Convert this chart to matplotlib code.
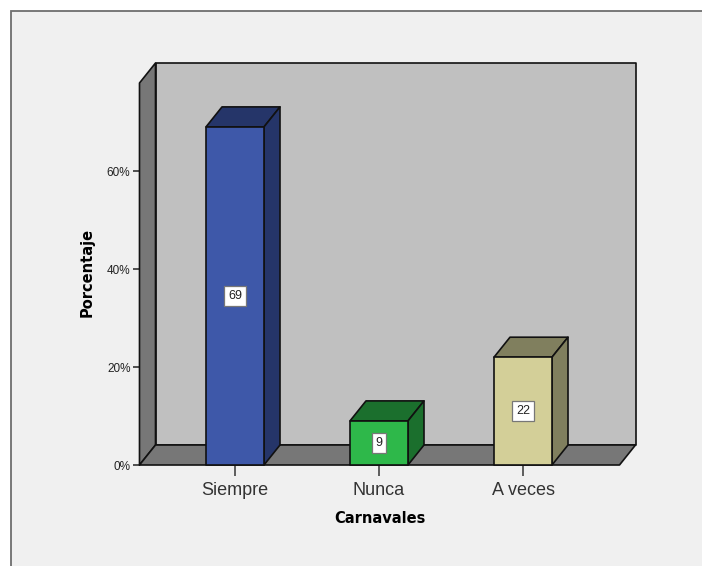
"""
3D style bar chart of Carnavales percentages
"""
import matplotlib
matplotlib.use("Agg")
from matplotlib import pyplot as plt
from matplotlib.patches import Polygon, Rectangle

categories = ["Siempre", "Nunca", "A veces"]
values = [69, 9, 22]
y_ticks = [0, 20, 40, 60]
front_colors = ["#3e58a9", "#2eb84a", "#d3cf98"]
side_colors = ["#253569", "#1b6f2d", "#807f5e"]

W, H = 702, 566
plt.rcParams["font.family"] = ["Liberation Sans", "DejaVu Sans"]

fig = plt.figure(figsize=(W / 100, H / 100), dpi=100, facecolor="white")

#Grey chart frame, open at the right and bottom edges of the image
fig.add_artist(Rectangle((10.5 / W, -0.1), 1, 1.1 - 11.5 / H, transform=fig.transFigure,
                         facecolor="#f0f0f0", edgecolor="#6e6e6e", linewidth=1.3, zorder=-1))

#Axes box is the front plane of the 3D plot
left, right, bottom, top = 139.5, 619.5, 465, 83
ax = fig.add_axes([left / W, 1 - bottom / H, (right - left) / W, (bottom - top) / H])
x_per_px = 1 / 144
y_per_px = 1 / 4.9
ax.set_xlim(-95.5 * x_per_px, 384.5 * x_per_px)
ax.set_ylim(0, (bottom - top) * y_per_px)
ax.patch.set_visible(False)
for s in ax.spines.values():
    s.set_visible(False)

dx = 16 * x_per_px
dy = 20 * y_per_px
x0, x1 = ax.get_xlim()
y0, y1 = ax.get_ylim()
line = "#111111"
lw = 1.2


def face(pts, color, z):
    ax.add_patch(Polygon(pts, closed=True, facecolor=color, edgecolor=line,
                         linewidth=lw, joinstyle="round", clip_on=False, zorder=z))


#Walls and floor
face([(x0 + dx, y0 + dy), (x1 + dx, y0 + dy), (x1 + dx, y1 + dy), (x0 + dx, y1 + dy)], "#c0c0c0", 1)
face([(x0, y0), (x0 + dx, y0 + dy), (x0 + dx, y1 + dy), (x0, y1)], "#777777", 2)
face([(x0, y0), (x1, y0), (x1 + dx, y0 + dy), (x0 + dx, y0 + dy)], "#777777", 2)

#Bars
bar_w = 58 * x_per_px
for i, v in enumerate(values):
    l, r = i - bar_w / 2, i + bar_w / 2
    face([(l, v), (r, v), (r + dx, v + dy), (l + dx, v + dy)], side_colors[i], 3)
    face([(r, 0), (r + dx, dy), (r + dx, v + dy), (r, v)], side_colors[i], 3)
    face([(l, 0), (r, 0), (r, v), (l, v)], front_colors[i], 4)
    ax.text(i, v / 2, str(v), ha="center", va="center", fontsize=9, color="#222222", zorder=5,
            bbox=dict(boxstyle="square,pad=0.3", facecolor="white", edgecolor="#777777", linewidth=0.9))

ax.set_xticks(range(len(categories)))
ax.set_xticklabels(categories, fontsize=13, color="#333333")
ax.set_yticks(y_ticks)
ax.set_yticklabels([str(t) + "%" for t in y_ticks], fontsize=8.5, color="#222222")
ax.tick_params(axis="x", length=8, width=1.2, color="#444444", pad=4)
ax.tick_params(axis="y", length=5, width=1.2, color="#333333", pad=1.5)
ax.set_xlabel("Carnavales", fontsize=10.5, fontweight="bold", family="DejaVu Sans", labelpad=9)

fig.text(87.5 / W, 1 - 272 / H, "Porcentaje", rotation=90, ha="center", va="center",
         fontsize=10.5, fontweight="bold", family="DejaVu Sans")

fig.savefig("out.png", dpi=100)
